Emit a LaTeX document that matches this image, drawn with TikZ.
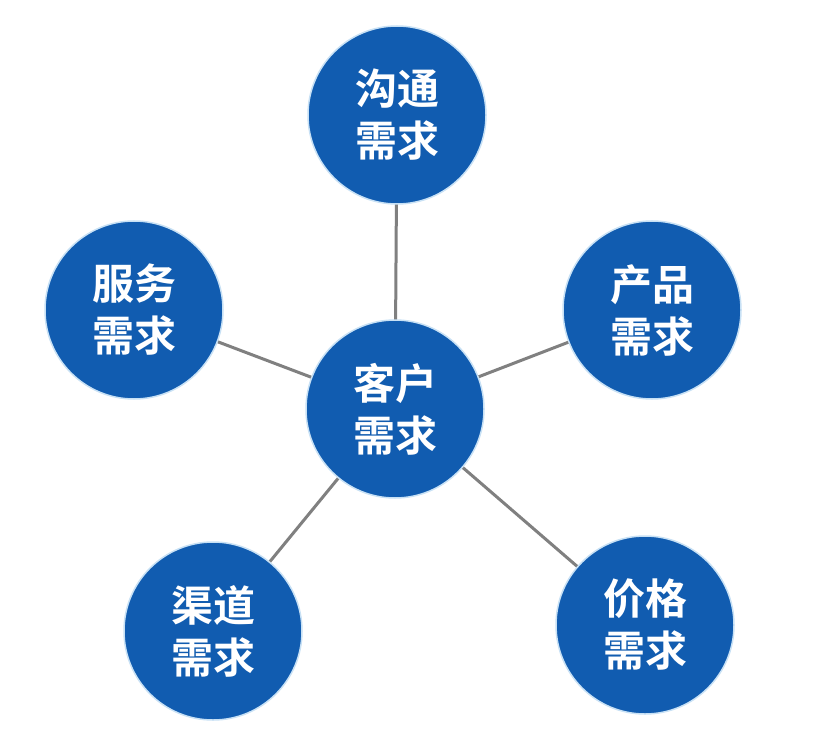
\documentclass[tikz,border=0pt]{standalone}
\usepackage{fontspec}
\newfontfamily\cjk{Noto Sans CJK SC}[BoldFont=* Bold]
\usetikzlibrary{backgrounds}
\definecolor{circblue}{RGB}{17,92,176}
\definecolor{halo}{RGB}{200,225,245}
\definecolor{linkgray}{RGB}{128,128,128}
\begin{document}
\begin{tikzpicture}[x=1pt,y=-1pt,
  bubble/.style={circle,fill=circblue,draw=halo,line width=1.5pt,minimum size=178pt,inner sep=0pt,
    text=white,font=\cjk\bfseries\fontsize{42}{52}\selectfont,align=center},
  link/.style={draw=linkgray,line width=3pt}]
\useasboundingbox (0,0) rectangle (829,735);
\node[bubble] (c) at (395,409) {客户\\需求};
\node[bubble] (t) at (397,115) {沟通\\需求};
\node[bubble] (l) at (134,310) {服务\\需求};
\node[bubble] (r) at (652,310) {产品\\需求};
\node[bubble] (bl) at (213,631) {渠道\\需求};
\node[bubble] (br) at (645,625) {价格\\需求};
\begin{pgfonlayer}{background}
\fill[white] (0,0) rectangle (829,735);
\draw[link] (c.center) -- (t.center);
\draw[link] (c.center) -- (l.center);
\draw[link] (c.center) -- (r.center);
\draw[link] (c.center) -- (bl.center);
\draw[link] (c.center) -- (br.center);
\end{pgfonlayer}
\end{tikzpicture}
\end{document}
